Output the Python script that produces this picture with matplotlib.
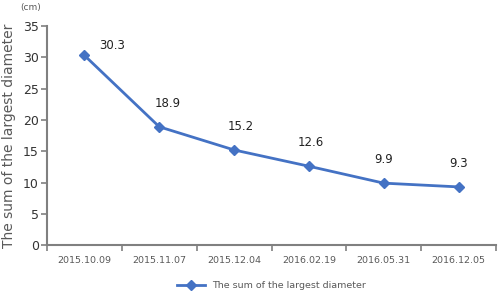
import matplotlib.pyplot as plt
import numpy as np

dates = ["2015.10.09", "2015.11.07", "2015.12.04", "2016.02.19", "2016.05.31", "2016.12.05"]
diam = [30.3, 18.9, 15.2, 12.6, 9.9, 9.3]
series_name = "The sum of the largest diameter"

blue = "#4472c4"
grey = "#595959"

fig = plt.figure(figsize=(5, 2.95), dpi=100)
ax = fig.add_axes([0.094, 0.169, 0.898, 0.743])

x = np.arange(len(dates))
ax.plot(x, diam, color=blue, lw=2, marker="D", ms=5.5, label=series_name)

# label offsets in points (first label sits to the right)
offs = [(20, 7), (6, 17), (5, 17), (1, 17), (0, 17), (0, 17)]
for xi, v, o in zip(x, diam, offs):
    ax.annotate(f"{v}", (xi, v), xytext=o, textcoords="offset points",
                ha="center", va="center", fontsize=8.5, color="#222222")

ax.set_xlim(-0.5, len(dates) - 0.5)
ax.set_ylim(0, 35)
ax.set_yticks(range(0, 36, 5))
ax.set_xticks(x)
ax.set_xticklabels(dates, fontsize=6.8, color=grey)
ax.set_xticks(np.arange(-0.5, len(dates), 1), minor=True)
ax.tick_params(axis="x", which="major", length=0, pad=8)
ax.tick_params(axis="x", which="minor", length=4, direction="out", color="#808080", width=1.2)
ax.tick_params(axis="y", length=4, width=1.2, color="#808080", labelsize=9, labelcolor="#333333", pad=2)

for s in ["top", "right"]:
    ax.spines[s].set_visible(False)
for s in ["left", "bottom"]:
    ax.spines[s].set_color("#808080")
    ax.spines[s].set_linewidth(1.5)

ax.set_ylabel(series_name, fontsize=10, color=grey, labelpad=5)
fig.text(0.062, 0.975, "(cm)", fontsize=6.5, color=grey, va="center", ha="center")

ax.legend(loc="upper center", bbox_to_anchor=(0.5, -0.125), frameon=False,
          fontsize=6.8, labelcolor=grey, handlelength=3)

fig.savefig("out.png", dpi=100)
